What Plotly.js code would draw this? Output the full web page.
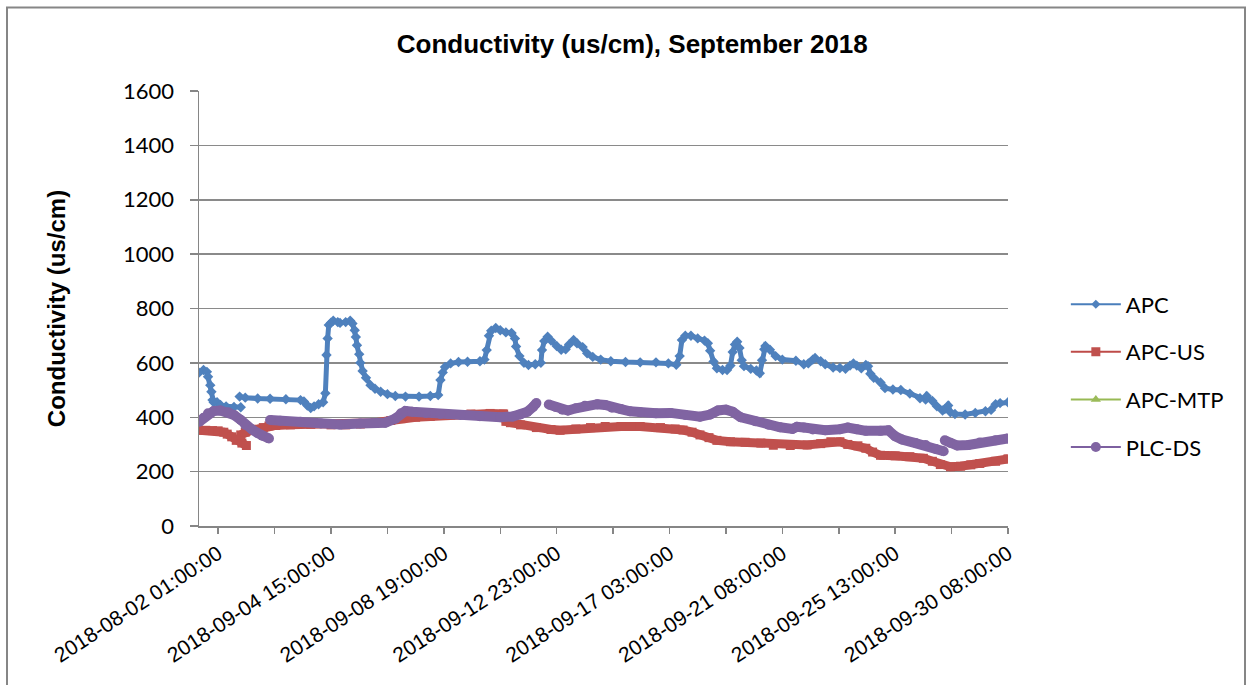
<!DOCTYPE html>
<html>
<head>
<meta charset="utf-8">
<script src="https://cdn.plot.ly/plotly-3.0.1.min.js"></script>
<style>
  html, body { margin: 0; padding: 0; background: #ffffff; }
  #chart { width: 1252px; height: 685px; }
</style>
</head>
<body>
<div id="chart"></div>
<script>
// Category positions (index of each hourly reading on the category axis) and values (us/cm).
// null entries mark gaps in the record.
const tickIndex = [0, 100, 200, 300, 400, 500, 600, 700];
const tickLabels = [
  "2018-08-02 01:00:00", "2018-09-04 15:00:00", "2018-09-08 19:00:00", "2018-09-12 23:00:00",
  "2018-09-17 03:00:00", "2018-09-21 08:00:00", "2018-09-25 13:00:00", "2018-09-30 08:00:00"
];

const apcX = [-17,-13,-10,-9,-7,-6,-5,-4,-1,2,7,14,20,null,
  19,24,35,46,60,73,76,79,82,85,89,93,95,96,97,98,100,102,106,108,113,117,119,121,122,123,125,126,128,131,135,139,144,150,157,166,178,188,195,
  197,199,201,206,213,221,232,236,238,240,242,246,250,255,260,263,264,267,271,275,281,286,287,289,292,295,300,304,308,311,315,318,323,327,332,339,348,361,374,388,
  399,406,409,411,414,419,425,431,434,436,439,442,447,451,454,456,458,460,462,464,466,472,477,480,482,484,485,489,494,500,512,519,523,527,529,534,538,545,551,556,
  560,563,566,570,574,576,578,581,587,591,598,605,613,622,627,628,633,637,642,644,647,649,653,662,671,680,685,689,693,700];
const apcY = [564,574,567,549,518,494,463,455,455,445,440,438,437,null,
  476,472,469,468,466,463,458,443,434,440,448,455,488,629,690,739,748,755,750,747,750,755,745,720,695,665,632,600,570,545,518,505,494,485,478,476,476,478,482,
  537,565,585,598,603,604,606,612,647,700,718,728,720,712,710,690,660,625,600,592,595,600,647,680,696,682,662,648,650,668,684,672,658,635,622,612,606,603,602,602,
  598,593,625,684,700,700,690,682,672,645,605,580,574,574,590,640,668,678,655,610,588,578,572,562,610,650,662,648,625,612,608,595,598,612,618,606,595,583,581,578,
  590,598,590,580,592,588,560,545,528,507,502,500,487,470,465,478,460,440,425,430,443,418,412,410,416,422,427,448,452,455];

const apcUsX = [-17,-11,-5,0,5,8,12,16,21,25,null,
  20,24,29,35,40,45,51,64,82,100,113,126,139,153,162,175,188,206,224,241,253,255,259,268,282,295,303,317,330,343,357,374,392,405,412,420,427,435,442,454,467,481,492,
  507,522,534,543,551,558,567,574,580,587,600,613,625,633,640,649,658,667,675,689,700];
const apcUsY = [352,352,351,350,345,338,328,315,305,296,null,
  335,345,352,356,362,368,370,372,374,372,372,375,380,388,395,400,403,408,412,414,412,385,380,372,362,355,352,357,362,366,366,366,362,357,353,345,335,325,315,310,308,305,297,
  296,298,303,310,310,300,295,286,272,260,258,255,249,238,226,218,220,225,230,238,247];

const apcMtpX = [null];
const apcMtpY = [null];

const plcDsX = [-17,-13,-9,-4,2,9,14,20,24,30,35,39,45,null,
  46,55,73,91,108,126,148,157,162,166,172,184,197,215,232,250,261,268,274,279,282,null,
  293,299,305,310,317,325,336,343,349,357,365,374,388,401,414,427,436,443,450,456,463,476,488,498,509,513,519,527,538,551,558,566,574,587,594,600,606,618,627,636,643,null,
  644,649,655,665,675,689,700];
const plcDsY = [383,398,415,423,425,418,408,390,372,355,342,332,322,null,
  390,387,383,377,373,377,380,395,415,423,420,416,412,408,404,400,403,410,420,438,452,null,
  447,438,428,425,433,442,448,445,435,430,422,418,415,416,408,402,410,425,428,420,400,385,372,363,357,365,362,355,352,356,362,356,350,350,352,330,318,305,298,283,275,null,
  315,305,296,298,307,315,322];

const seriesNames = ["APC", "APC-US", "APC-MTP", "PLC-DS"];
const lineColors = ["#4A7EBB", "#BE4B48", "#98B954", "#7D60A0"];
const markerColors = ["#4F81BD", "#C0504D", "#9BBB59", "#8064A2"];

const tickVals = [];
const tickText = [];
for (let i = 0; i <= 700; i += 50) {
  tickVals.push(i);
  const k = tickIndex.indexOf(i);
  tickText.push(k >= 0 ? tickLabels[k] : "");
}

const dataX = [apcX, apcUsX, apcMtpX, plcDsX];
const dataY = [apcY, apcUsY, apcMtpY, plcDsY];
const bandWidth = [5, 9, 3, 10];
const markerSymbol = ["diamond", "square", "triangle-up", "circle"];
const markerSize = [8, 9, 8, 10];
const legendMarkerSize = [7, 9, 9, 10];

const traces = [];
for (let s = 0; s < 4; s++) {
  traces.push({
    type: "scatter", mode: "lines+markers",
    x: dataX[s], y: dataY[s],
    connectgaps: false,
    showlegend: false,
    hoverinfo: "skip",
    line: { color: markerColors[s], width: bandWidth[s] },
    marker: { color: markerColors[s], symbol: markerSymbol[s], size: markerSize[s] }
  });
}
for (let s = 0; s < 4; s++) {
  traces.push({
    type: "scatter", mode: "lines+markers",
    x: [null], y: [null],
    name: seriesNames[s],
    legendgroup: "g" + s,
    showlegend: true,
    hoverinfo: "skip",
    line: { color: lineColors[s], width: 2 },
    marker: { color: markerColors[s], symbol: markerSymbol[s], size: legendMarkerSize[s] }
  });
}

const layout = {
  width: 1252, height: 685,
  paper_bgcolor: "#ffffff", plot_bgcolor: "#ffffff",
  margin: { l: 199, r: 244, t: 91, b: 159, pad: 0 },
  title: {
    text: "Conductivity (us/cm), September 2018",
    font: { family: "Liberation Sans, Arial, sans-serif", size: 26, color: "#000000", weight: "bold" },
    x: 0.505, xanchor: "center", xref: "container",
    y: 1 - 44 / 685, yanchor: "middle", yref: "container"
  },
  xaxis: {
    type: "linear", range: [-17, 700], autorange: false,
    tickmode: "array", tickvals: tickVals, ticktext: tickText,
    tickangle: -33,
    tickfont: { family: "Liberation Sans, Arial, sans-serif", size: 21, color: "#000000" },
    ticks: "outside", ticklen: 6, tickcolor: "#868686", tickwidth: 1.5,
    showgrid: false, zeroline: false,
    showline: true, linecolor: "#868686", linewidth: 1.5,
    automargin: false, fixedrange: true
  },
  yaxis: {
    range: [0, 1600], autorange: false, dtick: 200, tick0: 0,
    tickfont: { family: "Lato, sans-serif", size: 22, color: "#000000" },
    ticks: "outside", ticklen: 8, tickcolor: "#868686", tickwidth: 1.5,
    ticklabelstandoff: 11,
    showgrid: true, gridcolor: "#8a8a8a", gridwidth: 1.5,
    zeroline: false,
    showline: true, linecolor: "#868686", linewidth: 1.5,
    automargin: false, fixedrange: true,
    title: {
      text: "Conductivity (us/cm)",
      font: { family: "Liberation Sans, Arial, sans-serif", size: 24, color: "#000000", weight: "bold" },
      standoff: 50
    }
  },
  legend: {
    x: 1.0715, xanchor: "left", y: 0.345, yanchor: "middle",
    font: { family: "Lato, sans-serif", size: 22, color: "#000000" },
    traceorder: "grouped", tracegroupgap: 16,
    itemwidth: 50,
    bgcolor: "rgba(0,0,0,0)", borderwidth: 0
  },
  shapes: [{
    type: "rect", xref: "paper", yref: "paper",
    x0: (7 - 199) / 809, x1: (1245 - 199) / 809,
    y0: (526 - 700) / 435, y1: (526 - 7.5) / 435,
    line: { color: "#868686", width: 2 }, fillcolor: "rgba(0,0,0,0)", layer: "below"
  }],
  hovermode: false,
  showlegend: true
};

Plotly.newPlot("chart", traces, layout, { displayModeBar: false, staticPlot: true });
</script>
</body>
</html>
